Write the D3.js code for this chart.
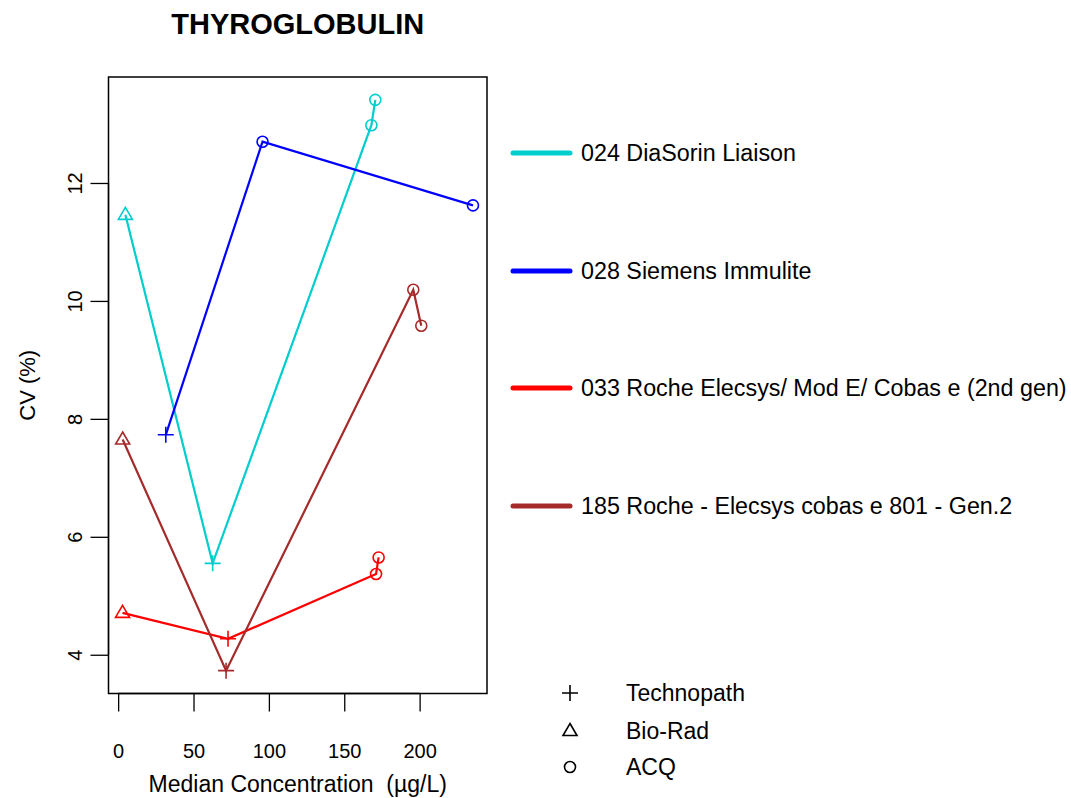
<!DOCTYPE html>
<html>
<head>
<meta charset="utf-8">
<script src="https://cdn.jsdelivr.net/npm/d3@7"></script>
<style>
  body { margin: 0; background: #fff; }
  text { font-family: Arial, "Liberation Sans", sans-serif; white-space: pre; }
</style>
</head>
<body>
<div id="root"></div>
<script>
  var width = 1071;
  var height = 798;

  // methods and their colours
  var methods = ['024 DiaSorin Liaison', '028 Siemens Immulite',
    '033 Roche Elecsys/ Mod E/ Cobas e (2nd gen)', '185 Roche - Elecsys cobas e 801 - Gen.2'];
  var colors = ['#00cdcd', '#0000ff', '#ff0000', '#a52a2a'];

  // control materials
  var materials = ['Technopath', 'Bio-Rad', 'ACQ'];

  // median concentration, CV and material for each method
  var conc024 = [4.8, 62.7, 168.0, 170.6];
  var cv024 = [11.46, 5.55, 12.98, 13.41];
  var mat024 = ['Bio-Rad', 'Technopath', 'ACQ', 'ACQ'];

  var conc028 = [31.6, 95.8, 235.4];
  var cv028 = [7.73, 12.70, 11.62];
  var mat028 = ['Technopath', 'ACQ', 'ACQ'];

  var conc033 = [2.9, 72.9, 171.1, 172.8];
  var cv033 = [4.71, 4.27, 5.37, 5.65];
  var mat033 = ['Bio-Rad', 'Technopath', 'ACQ', 'ACQ'];

  var conc185 = [3.0, 71.6, 195.8, 201.1];
  var cv185 = [7.65, 3.73, 10.19, 9.58];
  var mat185 = ['Bio-Rad', 'Technopath', 'ACQ', 'ACQ'];

  var xTicks = [0, 50, 100, 150, 200];
  var yTicks = [4, 6, 8, 10, 12];

  var series = [
    {conc: conc024, cv: cv024, mat: mat024},
    {conc: conc028, cv: cv028, mat: mat028},
    {conc: conc033, cv: cv033, mat: mat033},
    {conc: conc185, cv: cv185, mat: mat185}
  ].map(function(s, i) {
    return {
      name: methods[i],
      color: colors[i],
      points: s.conc.map(function(c, j) {
        return {x: c, y: s.cv[j], m: s.mat[j]};
      })
    };
  });

  // plot box (note: "top" is taken by window.top)
  var boxL = 108.5, boxR = 487, boxT = 77, boxB = 693.5;

  // R-style 4% padding around the data range
  var allX = d3.merge(series.map(function(s) { return s.points.map(function(p) { return p.x; }); }));
  var allY = d3.merge(series.map(function(s) { return s.points.map(function(p) { return p.y; }); }));
  var xe = d3.extent(allX), ye = d3.extent(allY);
  var xp = (xe[1] - xe[0]) * 0.04, yp = (ye[1] - ye[0]) * 0.04;

  var x = d3.scaleLinear().domain([xe[0] - xp, xe[1] + xp]).range([boxL, boxR]);
  var y = d3.scaleLinear().domain([ye[0] - yp, ye[1] + yp]).range([boxB, boxT]);

  var svg = d3.select('#root')
    .append('svg')
      .attr('width', width)
      .attr('height', height);

  // title
  svg.append('text')
    .attr('x', (boxL + boxR) / 2)
    .attr('y', 34)
    .attr('text-anchor', 'middle')
    .style('font-size', '29px')
    .style('font-weight', 'bold')
    .text('THYROGLOBULIN');

  // axes
  var xAxis = svg.append('g')
    .attr('transform', 'translate(0,' + boxB + ')')
    .call(d3.axisBottom(x).tickValues(xTicks).tickSize(18).tickPadding(32));

  var yAxis = svg.append('g')
    .attr('transform', 'translate(' + boxL + ',0)')
    .call(d3.axisLeft(y).tickValues(yTicks).tickSize(18));
  yAxis.selectAll('.tick text')
    .attr('x', 0).attr('dy', 0)
    .attr('text-anchor', 'middle')
    .attr('transform', 'translate(-27,0) rotate(-90)');

  svg.selectAll('.tick text')
    .style('font-size', '20px')
    .attr('fill', '#000');
  svg.selectAll('.tick line').attr('stroke', '#000').attr('stroke-width', 1.3);
  svg.selectAll('.domain').remove();
  xAxis.append('path')
    .attr('d', 'M' + x(xTicks[0]) + ',0H' + x(xTicks[xTicks.length - 1]))
    .attr('stroke', '#000').attr('stroke-width', 1.3);
  yAxis.append('path')
    .attr('d', 'M0,' + y(yTicks[0]) + 'V' + y(yTicks[yTicks.length - 1]))
    .attr('stroke', '#000').attr('stroke-width', 1.3);

  // plot box
  svg.append('rect')
    .attr('x', boxL).attr('y', boxT)
    .attr('width', boxR - boxL).attr('height', boxB - boxT)
    .attr('fill', 'none').attr('stroke', '#000').attr('stroke-width', 1.5);

  svg.append('text')
    .attr('x', (boxL + boxR) / 2)
    .attr('y', 792)
    .attr('text-anchor', 'middle')
    .style('font-size', '23px')
    .text('Median Concentration  (\u00b5g/L)');

  svg.append('text')
    .attr('transform', 'translate(27,' + ((boxT + boxB) / 2) + ') rotate(-90)')
    .attr('text-anchor', 'middle')
    .attr('dy', '0.35em')
    .style('font-size', '22px')
    .text('CV (%)');

  function symbol(g, m, color) {
    if (m === 'Technopath') {
      g.append('path').attr('d', 'M-8,0H8M0,-8V8');
    } else if (m === 'Bio-Rad') {
      g.append('path').attr('d', 'M0,-7.5L7,4.5H-7Z');
    } else {
      g.append('circle').attr('r', 5.5);
    }
    g.selectAll('path, circle')
      .attr('fill', 'none')
      .attr('stroke', color)
      .attr('stroke-width', 1.6);
  }

  var line = d3.line()
    .x(function(d) { return x(d.x); })
    .y(function(d) { return y(d.y); });

  series.forEach(function(s) {
    svg.append('path')
      .datum(s.points)
      .attr('d', line)
      .attr('fill', 'none')
      .attr('stroke', s.color)
      .attr('stroke-width', 2.2);

    s.points.forEach(function(p) {
      var g = svg.append('g')
        .attr('transform', 'translate(' + x(p.x) + ',' + y(p.y) + ')');
      symbol(g, p.m, s.color);
    });
  });

  // method legend
  var legY = [153, 271, 388, 506];
  series.forEach(function(s, i) {
    svg.append('line')
      .attr('x1', 513).attr('x2', 570)
      .attr('y1', legY[i]).attr('y2', legY[i])
      .attr('stroke', s.color)
      .attr('stroke-width', 5)
      .attr('stroke-linecap', 'round');
    svg.append('text')
      .attr('x', 581).attr('y', legY[i])
      .attr('dy', '0.35em')
      .style('font-size', '23.3px')
      .text(s.name);
  });

  // material legend
  var matY = [693, 731, 767];
  materials.forEach(function(m, i) {
    var g = svg.append('g').attr('transform', 'translate(570,' + matY[i] + ')');
    symbol(g, m, '#000');
    svg.append('text')
      .attr('x', 626).attr('y', matY[i])
      .attr('dy', '0.35em')
      .style('font-size', '23px')
      .text(m);
  });
</script>
</body>
</html>
